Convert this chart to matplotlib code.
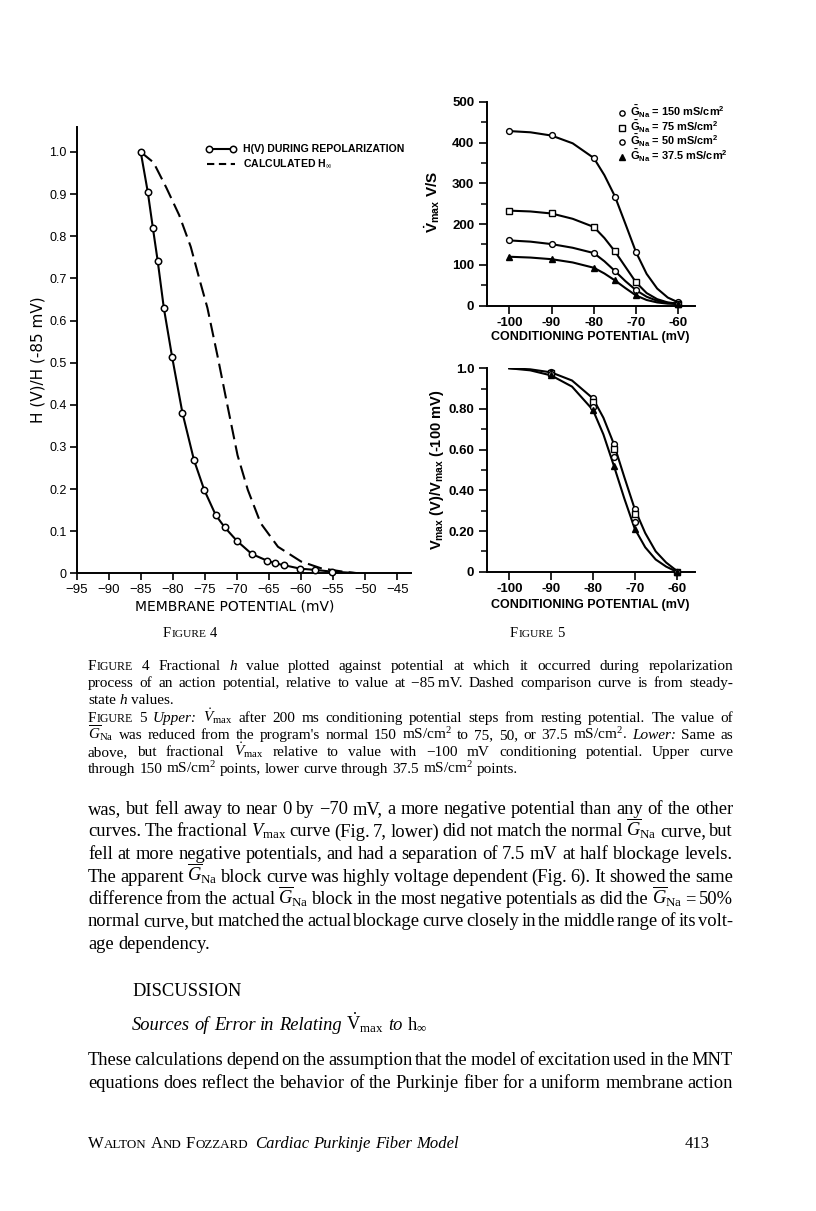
import numpy as np
import matplotlib
matplotlib.use("Agg")
import matplotlib.pyplot as plt
from matplotlib.lines import Line2D

plt.rcParams['mathtext.fontset'] = 'custom'
plt.rcParams['mathtext.rm'] = 'Liberation Serif'
plt.rcParams['mathtext.it'] = 'Liberation Serif:italic'
plt.rcParams['mathtext.bf'] = 'Liberation Serif:bold'
plt.rcParams['mathtext.sf'] = 'Liberation Sans:bold'

# ---- figure 4: h during repolarization vs calculated h-infinity
h_v = [-85, -83.9, -83.1, -82.35, -81.4, -80.1, -78.5, -76.7, -75.1, -73.3,
       -71.9, -70.0, -67.7, -65.3, -64.1, -62.6, -60.1, -57.8, -55.2]
h_val = [1.0, 0.905, 0.819, 0.741, 0.630, 0.513, 0.381, 0.269, 0.198, 0.138,
         0.109, 0.077, 0.046, 0.030, 0.024, 0.019, 0.011, 0.008, 0.004]
h_tail_v = [-55.2, -53.0, -51.0]
h_tail_val = [0.004, 0.002, 0.0]
hinf_v = [-85, -83, -81, -79, -77.2, -75.7, -74.6, -73.0, -71.5, -69.9,
          -68.3, -66.3, -63.6, -60.0, -56.9, -53.5, -51.0]
hinf_val = [1.0, 0.975, 0.915, 0.85, 0.775, 0.69, 0.63, 0.514, 0.40, 0.28,
            0.198, 0.119, 0.063, 0.028, 0.012, 0.004, 0.0]
fig4_xticks = [-95, -90, -85, -80, -75, -70, -65, -60, -55, -50, -45]
fig4_yticks = [0, 0.1, 0.2, 0.3, 0.4, 0.5, 0.6, 0.7, 0.8, 0.9, 1.0]
fig4_ylabels = ['0', '0.1', '0.2', '0.3', '0.4', '0.5', '0.6', '0.7', '0.8', '0.9', '1.0']

# ---- figure 5 upper: Vmax for each GNa
cond_v = [-100, -90, -80, -75, -70, -60]
vmax_150 = [428, 418, 362, 266, 131, 8]
vmax_75 = [233, 227, 193, 133, 57, 5]
vmax_50 = [160, 151, 129, 85, 38, 5]
vmax_37 = [120, 114, 93, 62, 25, 4]
curve_v = [-100, -95, -90, -85, -80, -77.5, -75, -72.5, -70, -67.5, -65, -62.5, -60]
curve_150 = [428, 425, 417, 398, 362, 320, 268, 200, 131, 78, 42, 20, 8]
curve_75 = [233, 231, 226, 213, 193, 166, 133, 95, 57, 31, 16, 8, 5]
curve_50 = [160, 157, 151, 142, 129, 109, 85, 60, 38, 22, 12, 7, 5]
curve_37 = [120, 118, 114, 106, 93, 79, 62, 43, 25, 14, 8, 5, 4]
legend_g = ['150', '75', '50', '37.5']

# ---- figure 5 lower: fractional Vmax
frac_v = [-90, -80, -75, -70, -60]
frac_150 = [0.98, 0.852, 0.628, 0.308, 0.0]
frac_75 = [0.975, 0.833, 0.602, 0.282, 0.0]
frac_50 = [0.97, 0.811, 0.565, 0.245, 0.0]
frac_37 = [0.965, 0.795, 0.521, 0.211, 0.0]
upper_curve = [1.0, 0.995, 0.98, 0.94, 0.852, 0.757, 0.628, 0.465, 0.308, 0.19, 0.10, 0.045, 0.005]
lower_curve = [1.0, 0.99, 0.965, 0.91, 0.795, 0.675, 0.521, 0.36, 0.211, 0.12, 0.06, 0.025, 0.0]
fig5_xticks = [-100, -90, -80, -70, -60]
frac_yticks = [0, 0.2, 0.4, 0.6, 0.8, 1.0]
frac_ylabels = ['0', '0.20', '0.40', '0.60', '0.80', '1.0']

W, H = 816, 1211
fig = plt.figure(figsize=(W / 100, H / 100), dpi=100)
fig.patch.set_facecolor('white')
renderer = fig.canvas.get_renderer()

SERIF = 'Liberation Serif'
SANS = 'Liberation Sans'
LETTER = 'DejaVu Sans'


def box(left, top, right, bottom):
    return [left / W, 1 - bottom / H, (right - left) / W, (bottom - top) / H]


def fx(x):
    return x / W


def fy(y):
    return 1 - y / H


def style_axes(ax, lw=1.4):
    for s in ['top', 'right']:
        ax.spines[s].set_visible(False)
    for s in ['left', 'bottom']:
        ax.spines[s].set_linewidth(lw)
    ax.patch.set_alpha(0)


# ================= FIGURE 4 =================
ax1 = fig.add_axes(box(76.6, 126.7, 410.7, 573.3))
ax1.plot(hinf_v, hinf_val, color='k', lw=1.5, dashes=(7, 3))
ax1.plot(h_v + h_tail_v[1:], h_val + h_tail_val[1:], color='k', lw=1.5)
ax1.plot(h_v, h_val, 'o', ms=4.6, mfc='white', mec='k', mew=1.1, clip_on=False, zorder=3)
ax1.set_xlim(-95, -42.9)
ax1.set_ylim(0, 1.06)
style_axes(ax1)
ax1.set_xticks(fig4_xticks)
ax1.set_xticklabels([str(v).replace('-', '\u2212') for v in fig4_xticks])
ax1.set_yticks(fig4_yticks)
ax1.set_yticklabels(fig4_ylabels)
ax1.tick_params(direction='out', length=5, width=1.2, labelsize=9.5, pad=2)
ax1.tick_params(axis='y', labelsize=9)
ax1.tick_params(axis='x', pad=3)
for lab in ax1.get_xticklabels() + ax1.get_yticklabels():
    lab.set_family(SANS)

fig.text(fx(235), fy(607), 'MEMBRANE POTENTIAL (mV)', family=LETTER, fontsize=10,
         ha='center', va='center')
fig.text(fx(38), fy(360), 'H (V)/H (-85 mV)', family=LETTER, fontsize=11,
         ha='center', va='center', rotation=90)

# legend
fig.add_artist(Line2D([fx(209), fx(233)], [fy(149), fy(149)], color='k', lw=1.5,
                      marker='o', ms=4.6, mfc='white', mec='k', mew=1.1,
                      transform=fig.transFigure))
fig.add_artist(Line2D([fx(207), fx(235)], [fy(163.5), fy(163.5)], color='k', lw=1.5,
                      dashes=(3.5, 2.2), transform=fig.transFigure))
fig.text(fx(243), fy(149), 'H(V) DURING REPOLARIZATION', family=SANS, fontsize=7.6,
         fontweight='bold', ha='left', va='center')
fig.text(fx(243), fy(163.5), r'CALCULATED H$_{\mathbf{\infty}}$', family=SANS, fontsize=7.6,
         fontweight='bold', ha='left', va='center')

# ================= FIGURE 5 upper =================
ax2 = fig.add_axes(box(486.7, 101.7, 695, 305.7))
series = [(curve_150, vmax_150, 'o', 'white'), (curve_75, vmax_75, 's', 'white'),
          (curve_50, vmax_50, 'o', 'white'), (curve_37, vmax_37, '^', 'k')]
for cy, my, mk, fc in series:
    ax2.plot(curve_v, cy, color='k', lw=1.5)
    ax2.plot(cond_v, my, mk, ms=4.2 if mk != '^' else 4.6, mfc=fc, mec='k', mew=1.0,
             clip_on=False, zorder=3)
ax2.set_xlim(-105.35, -56.05)
ax2.set_ylim(0, 500)
style_axes(ax2)
ax2.set_xticks(fig5_xticks)
ax2.set_xticklabels([str(v) for v in fig5_xticks])
ax2.set_yticks(range(0, 501, 100))
ax2.set_yticks(range(50, 500, 100), minor=True)
ax2.tick_params(direction='out', length=6, width=1.2, labelsize=9.5, pad=3)
ax2.tick_params(which='minor', direction='out', length=4.5, width=1.1)
ax2.tick_params(axis='x', pad=2)
for lab in ax2.get_xticklabels() + ax2.get_yticklabels():
    lab.set_family(SANS)
    lab.set_fontweight('bold')

fig.text(fx(590), fy(337), 'CONDITIONING POTENTIAL (mV)', family=SANS, fontsize=9,
         fontweight='bold', ha='center', va='center')
fig.text(fx(432), fy(202), r'$\mathsf{\dot{V}_{max}}$ V/S', family=SANS, fontsize=11,
         fontweight='bold', ha='center', va='center', rotation=90)

legend_y = [113, 127.5, 142, 156.5]
legend_mk = [('o', 'white'), ('s', 'white'), ('o', 'white'), ('^', 'k')]
for g, yy, (mk, fc) in zip(legend_g, legend_y, legend_mk):
    fig.add_artist(Line2D([fx(622)], [fy(yy)], marker=mk, ms=3.8, mfc=fc, mec='k',
                          mew=1.0, ls='none', transform=fig.transFigure))
    fig.text(fx(630), fy(yy + 3.5), r'$\mathsf{\bar{G}_{Na}}$ = ' + g + r' mS/cm$^{\mathsf{2}}$',
             family=SANS, fontsize=7.9, fontweight='bold', ha='left', va='baseline')

# ================= FIGURE 5 lower =================
ax3 = fig.add_axes(box(486.7, 368.3, 695, 571.7))
ax3.plot(curve_v, upper_curve, color='k', lw=1.5)
ax3.plot(curve_v, lower_curve, color='k', lw=1.5)
for my, (mk, fc) in zip([frac_150, frac_75, frac_50, frac_37], legend_mk):
    ax3.plot(frac_v, my, mk, ms=4.2 if mk != '^' else 4.6, mfc=fc, mec='k', mew=1.0,
             clip_on=False, zorder=3)
ax3.set_xlim(-105.4, -55.6)
ax3.set_ylim(0, 1.0)
style_axes(ax3)
ax3.set_xticks(fig5_xticks)
ax3.set_xticklabels([str(v) for v in fig5_xticks])
ax3.set_yticks(frac_yticks)
ax3.set_yticklabels(frac_ylabels)
ax3.set_yticks(np.arange(0.1, 1.0, 0.2), minor=True)
ax3.tick_params(direction='out', length=6, width=1.2, labelsize=9.5, pad=3)
ax3.tick_params(which='minor', direction='out', length=4.5, width=1.1)
ax3.tick_params(axis='x', pad=2)
for lab in ax3.get_xticklabels() + ax3.get_yticklabels():
    lab.set_family(SANS)
    lab.set_fontweight('bold')

fig.text(fx(590), fy(605), 'CONDITIONING POTENTIAL (mV)', family=SANS, fontsize=9,
         fontweight='bold', ha='center', va='center')
fig.text(fx(437), fy(470), r'$\mathsf{V_{max}}$ (V)/$\mathsf{V_{max}}$ (-100 mV)', family=SANS,
         fontsize=10.5, fontweight='bold', ha='center', va='center', rotation=90)


# ================= page text =================
def make_word(w, size):
    pieces = []
    if w.startswith('^'):
        w = w[1:]
        pieces.append((w[0], dict(fontsize=size)))
        if len(w) > 1:
            pieces.append((w[1:], dict(fontsize=size * 0.78)))
    elif w.startswith('~'):
        pieces.append((w[1:], dict(fontsize=size, style='italic')))
    else:
        pieces.append((w, dict(fontsize=size)))
    out = []
    for s, kw in pieces:
        t = fig.text(0, 0, s, family=SERIF, ha='left', va='baseline', **kw)
        out.append((t, t.get_window_extent(renderer).width))
    return out


def draw_line(line, y, size, x0=88.0, x1=733.0, justify=True, center=None):
    words = [make_word(w, size) for w in line.split(' ')]
    widths = [sum(wd for _, wd in grp) for grp in words]
    space = size * 100 / 72 * 0.25
    if justify and len(words) > 1:
        gap = (x1 - x0 - sum(widths)) / (len(words) - 1)
    else:
        gap = space
    total = sum(widths) + gap * (len(words) - 1)
    x = x0 if center is None else center - total / 2
    for grp, wd in zip(words, widths):
        xx = x
        for t, pw in grp:
            t.set_position((fx(xx), fy(y)))
            xx += pw + 0.3
        x += wd + gap


draw_line('^FIGURE 4', 637, 10.5, justify=False, center=190)
draw_line('^FIGURE 5', 637, 10.5, justify=False, center=537)

VDOT = r'$\dot{V}_{\mathrm{max}}$'
GNA = r'$\overline{G}_{\mathrm{Na}}$'
CM2 = r'mS/cm$^2$'

CAP = 11
caption = [
    ('^FIGURE 4 Fractional ~h value plotted against potential at which it occurred during repolarization', True),
    ('process of an action potential, relative to value at \u221285\u2009mV. Dashed comparison curve is from steady-', True),
    ('state ~h values.', False),
    ('^FIGURE 5 ~Upper: ' + VDOT + ' after 200 ms conditioning potential steps from resting potential. The value of', True),
    (GNA + " was reduced from the program's normal 150 " + CM2 + ' to 75, 50, or 37.5 ' + CM2 + '. ~Lower: Same as', True),
    ('above, but fractional ' + VDOT + ' relative to value with \u2212100 mV conditioning potential. Upper curve', True),
    ('through 150 ' + CM2 + ' points, lower curve through 37.5 ' + CM2 + ' points.', False),
]
for i, (ln, j) in enumerate(caption):
    draw_line(ln, 670 + i * 17.2, CAP, justify=j)

BODY = 13.3
body = [
    ('was, but fell away to near 0 by \u221270 mV, a more negative potential than any of the other', True),
    (r'curves. The fractional $V_{\mathrm{max}}$ curve (Fig. 7, lower) did not match the normal ' + GNA + ' curve, but', True),
    ('fell at more negative potentials, and had a separation of 7.5 mV at half blockage levels.', True),
    ('The apparent ' + GNA + ' block curve was highly voltage dependent (Fig. 6). It showed the same', True),
    ('difference from the actual ' + GNA + ' block in the most negative potentials as did the ' + GNA + ' = 50%', True),
    ('normal curve, but matched the actual blockage curve closely in the middle range of its volt-', True),
    ('age dependency.', False),
]
for i, (ln, j) in enumerate(body):
    draw_line(ln, 814 + i * 22.5, BODY, justify=j)

draw_line('DISCUSSION', 996, BODY, x0=132, justify=False)
draw_line(r'~Sources ~of ~Error ~in ~Relating $\dot{\mathrm{V}}_{\mathrm{max}}$ ~to $\mathrm{h}_{\infty}$',
          1030, BODY, x0=132, justify=False)
draw_line('These calculations depend on the assumption that the model of excitation used in the MNT',
          1065, BODY, justify=True)
draw_line('equations does reflect the behavior of the Purkinje fiber for a uniform membrane action',
          1088, BODY, justify=True)

draw_line('^WALTON ^AND ^FOZZARD', 1148, 12, justify=False)
draw_line('~Cardiac ~Purkinje ~Fiber ~Model', 1148, 12, x0=255, justify=False)
fig.text(fx(710), fy(1148), '413', family=SERIF, fontsize=12, ha='right', va='baseline')

fig.savefig('out.png', dpi=100, facecolor='white')
